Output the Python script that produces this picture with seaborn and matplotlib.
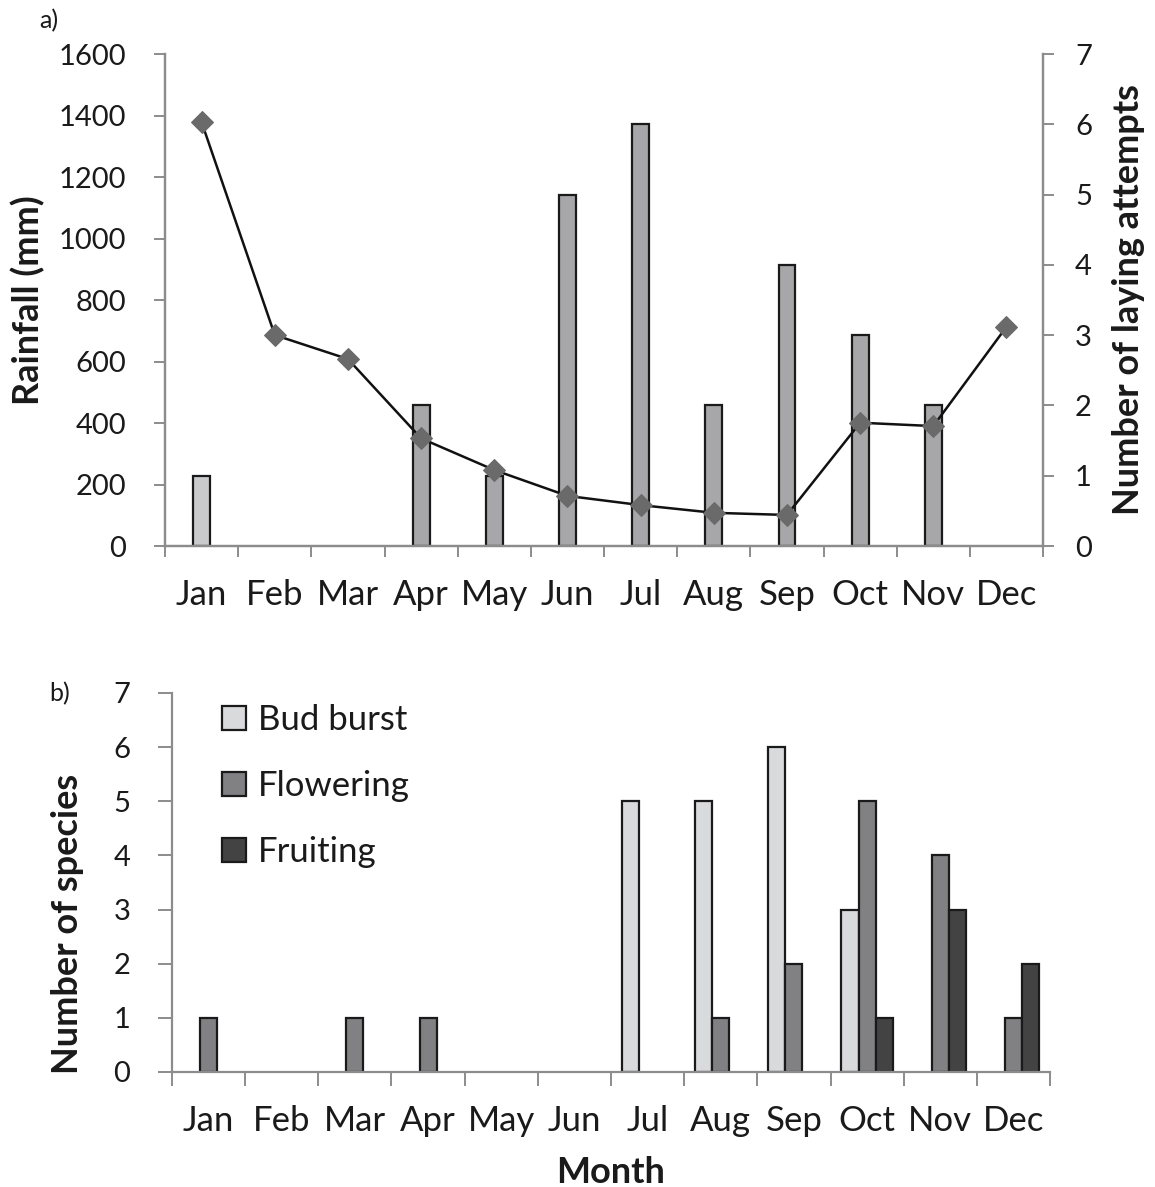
import matplotlib
matplotlib.use("Agg")
import matplotlib.pyplot as plt
import seaborn as sns
import pandas as pd
import numpy as np
from matplotlib.ticker import FixedLocator, NullFormatter

months = ["Jan", "Feb", "Mar", "Apr", "May", "Jun", "Jul", "Aug", "Sep", "Oct", "Nov", "Dec"]
rainfall = [1378, 686, 608, 350, 247, 163, 133, 108, 101, 401, 390, 713]
laying_attempts = [1, 0, 0, 2, 1, 5, 6, 2, 4, 3, 2, 0]

bud_burst = [0, 0, 0, 0, 0, 0, 5, 5, 6, 3, 0, 0]
flowering = [1, 0, 1, 1, 0, 0, 0, 1, 2, 5, 4, 1]
fruiting = [0, 0, 0, 0, 0, 0, 0, 0, 0, 1, 3, 2]
phases = ["Bud burst", "Flowering", "Fruiting"]

sns.set_theme(style="white")
plt.rcParams["font.family"] = ["Lato", "DejaVu Sans"]

TXT = "#1a1a1a"
SPINE = "#8c8c8c"
FS_NUM = 21
FS_MON = 25
FS_LAB = 26

fig = plt.figure(figsize=(11.55, 11.87), dpi=100)
axA = fig.add_axes([0.1429, 0.540, 0.7602, 0.4145])
axA2 = axA.twinx()

# --- Panel a: bars (laying attempts, right axis) ---
bar_colors = ["#c9cacc"] + ["#a6a7aa"] * 11
dfa = pd.DataFrame({"Month": months, "Attempts": laying_attempts})
sns.barplot(data=dfa[dfa["Attempts"] > 0], x="Month", y="Attempts", order=months,
            hue="Month", hue_order=months, palette=bar_colors, legend=False,
            width=0.23, edgecolor="#1a1a1a", linewidth=1.6, ax=axA2)

# --- line (rainfall, left axis) ---
dfr = pd.DataFrame({"Month": months, "Rainfall": rainfall})
dfr["pos"] = np.arange(len(months))
sns.lineplot(data=dfr, x="pos", y="Rainfall", color="#111111", linewidth=1.8,
             marker="D", markersize=11, markerfacecolor="#6a6a6a",
             markeredgecolor="#6a6a6a", ax=axA)

axA.set_zorder(axA2.get_zorder() + 1)
axA.patch.set_visible(False)

axA.set_xlim(-0.5, 11.5)
axA.set_ylim(0, 1600)
axA2.set_ylim(0, 7)
axA.set_yticks(np.arange(0, 1601, 200))
axA2.set_yticks(np.arange(0, 8, 1))
axA.set_xticks(np.arange(12))
axA.set_xticklabels(months)
axA.xaxis.set_minor_locator(FixedLocator(np.arange(-0.5, 12, 1)))
axA.xaxis.set_minor_formatter(NullFormatter())

axA.set_xlabel("")
axA2.set_xlabel("")
axA.set_ylabel("Rainfall (mm)", fontsize=FS_LAB, fontweight="bold", color=TXT)
axA.yaxis.set_label_coords(-0.156, 0.5)
axA2.set_ylabel("Number of laying attempts", fontsize=FS_LAB, fontweight="bold", color=TXT)
axA2.yaxis.set_label_coords(1.097, 0.5)
axA.yaxis.label.set_va("center")
axA2.yaxis.label.set_va("center")

for ax in (axA, axA2):
    ax.spines["top"].set_visible(False)
    for s in ["left", "right", "bottom"]:
        ax.spines[s].set_color(SPINE)
        ax.spines[s].set_linewidth(1.6)
axA.tick_params(axis="y", which="both", direction="out", length=8, width=1.4, color=SPINE,
                labelsize=FS_NUM, labelcolor=TXT, left=True, pad=20)
axA2.tick_params(axis="y", which="both", direction="out", length=8, width=1.4, color=SPINE,
                 labelsize=FS_NUM, labelcolor=TXT, right=True, pad=15)
axA.tick_params(axis="x", which="major", length=0, labelsize=FS_MON, labelcolor=TXT, pad=24)
axA.tick_params(axis="x", which="minor", direction="out", length=8, width=1.4, color=SPINE,
                bottom=True)

fig.text(0.034, 0.983, "a)", fontsize=18, color=TXT, ha="left", va="center")

# --- Panel b ---
axB = fig.add_axes([0.1489, 0.0969, 0.7602, 0.3193])
dfb = pd.DataFrame({
    "Month": months * 3,
    "Phase": [phases[0]] * 12 + [phases[1]] * 12 + [phases[2]] * 12,
    "Count": bud_burst + flowering + fruiting,
})
phase_colors = {"Bud burst": "#d9dadc", "Flowering": "#808185", "Fruiting": "#434343"}
sns.barplot(data=dfb[dfb["Count"] > 0], x="Month", y="Count", hue="Phase",
            order=months, hue_order=phases, palette=phase_colors, width=0.70,
            edgecolor="#1a1a1a", linewidth=1.6, ax=axB)

axB.set_xlim(-0.5, 11.5)
axB.set_ylim(0, 7)
axB.set_yticks(np.arange(0, 8, 1))
axB.xaxis.set_minor_locator(FixedLocator(np.arange(-0.5, 12, 1)))
axB.xaxis.set_minor_formatter(NullFormatter())
for s in ["top", "right"]:
    axB.spines[s].set_visible(False)
for s in ["left", "bottom"]:
    axB.spines[s].set_color(SPINE)
    axB.spines[s].set_linewidth(1.6)
axB.tick_params(axis="y", which="both", direction="out", length=10, width=1.4, color=SPINE,
                labelsize=FS_NUM, labelcolor=TXT, left=True, pad=20)
axB.tick_params(axis="x", which="major", length=0, labelsize=FS_MON, labelcolor=TXT, pad=24)
axB.tick_params(axis="x", which="minor", direction="out", length=10, width=1.4, color=SPINE,
                bottom=True)
axB.set_xlabel("Month", fontsize=FS_LAB, fontweight="bold", color=TXT)
axB.xaxis.set_label_coords(0.5, -0.265)
axB.xaxis.label.set_va("center")
axB.set_ylabel("Number of species", fontsize=FS_LAB, fontweight="bold", color=TXT)
axB.yaxis.set_label_coords(-0.1185, 0.39)
axB.yaxis.label.set_va("center")

leg = axB.legend(loc="upper left", bbox_to_anchor=(0.041, 1.007), frameon=False,
                 fontsize=FS_MON, handlelength=0.7, handleheight=0.7, handletextpad=0.35,
                 labelspacing=0.98, borderaxespad=0)
for t in leg.get_texts():
    t.set_color(TXT)

fig.text(0.043, 0.416, "b)", fontsize=18, color=TXT, ha="left", va="center")

fig.savefig("out.png", dpi=100)
